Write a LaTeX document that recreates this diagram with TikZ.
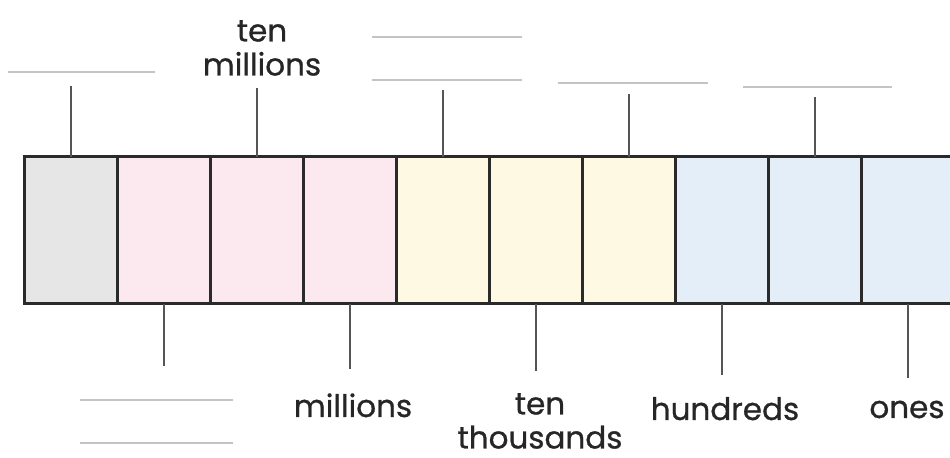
\documentclass[tikz,border=0pt]{standalone}
\usepackage{fontspec}
\setmainfont{Poppins}
\newfontfamily\lblfont{Poppins}[FakeBold=0.8]
\definecolor{boxline}{HTML}{2A2A2A}
\definecolor{tickline}{HTML}{555555}
\definecolor{blankline}{HTML}{C4C4C4}
\definecolor{labeltext}{HTML}{262626}
\definecolor{cellgrey}{HTML}{E6E6E6}
\definecolor{cellpink}{HTML}{FCE8EF}
\definecolor{cellyellow}{HTML}{FDF9E3}
\definecolor{cellblue}{HTML}{E4EEF9}
\begin{document}
\begin{tikzpicture}[x=0.5pt, y=-0.5pt,
  cell/.style={draw=boxline, line width=1.5pt, minimum width=46.5pt, minimum height=73.5pt, inner sep=0pt, outer sep=0pt},
  tick/.style={draw=tickline, line width=1pt},
  blank/.style={draw=blankline, line width=1.2pt},
  lbl/.style={font=\lblfont\fontsize{15.5}{17}\selectfont, text=labeltext, align=center, inner sep=0pt}]
  \useasboundingbox (0,0) rectangle (950,458);

  % place value cells
  \node[cell, fill=cellgrey]   (b1)  at (70.5,230.5)  {};
  \node[cell, fill=cellpink]   (b2)  at (163.5,230.5) {};
  \node[cell, fill=cellpink]   (b3)  at (256.5,230.5) {};
  \node[cell, fill=cellpink]   (b4)  at (349.5,230.5) {};
  \node[cell, fill=cellyellow] (b5)  at (442.5,230.5) {};
  \node[cell, fill=cellyellow] (b6)  at (535.5,230.5) {};
  \node[cell, fill=cellyellow] (b7)  at (628.5,230.5) {};
  \node[cell, fill=cellblue]   (b8)  at (721.5,230.5) {};
  \node[cell, fill=cellblue]   (b9)  at (814.5,230.5) {};
  \node[cell, fill=cellblue]   (b10) at (907.5,230.5) {};

  % ticks above
  \coordinate (t1) at (70.5,86);
  \coordinate (t3) at (256.5,88);
  \coordinate (t5) at (442.5,90);
  \coordinate (t7) at (628.5,94);
  \coordinate (t9) at (814.5,97);
  \draw[tick] (b1.north) -- (t1);
  \draw[tick] (b3.north) -- (t3);
  \draw[tick] (b5.north) -- (t5);
  \draw[tick] (b7.north) -- (t7);
  \draw[tick] (b9.north) -- (t9);

  % ticks below
  \coordinate (t2) at (163.5,366);
  \coordinate (t4) at (349.5,369);
  \coordinate (t6) at (535.5,371);
  \coordinate (t8) at (721.5,375);
  \coordinate (t10) at (907.5,378);
  \draw[tick] (b2.south) -- (t2);
  \draw[tick] (b4.south) -- (t4);
  \draw[tick] (b6.south) -- (t6);
  \draw[tick] (b8.south) -- (t8);
  \draw[tick] (b10.south) -- (t10);

  % blanks to fill in
  \draw[blank] (8,72) -- (155,72);
  \draw[blank] (372,37) -- (522,37);
  \draw[blank] (372,80) -- (522,80);
  \draw[blank] (558,83) -- (708,83);
  \draw[blank] (743,87) -- (892,87);
  \draw[blank] (80,400) -- (233,400);
  \draw[blank] (80,443) -- (233,443);

  % names
  \node[lbl] (tenmil) at (262,48) {ten\\millions};
  \node[lbl, anchor=base] (mil) at (353,417) {millions};
  \node[lbl] (tenth) at (540,421) {ten\\thousands};
  \node[lbl, anchor=base] (hund) at (725,420) {hundreds};
  \node[lbl, anchor=base] (ones) at (907,418) {ones};
\end{tikzpicture}
\end{document}
